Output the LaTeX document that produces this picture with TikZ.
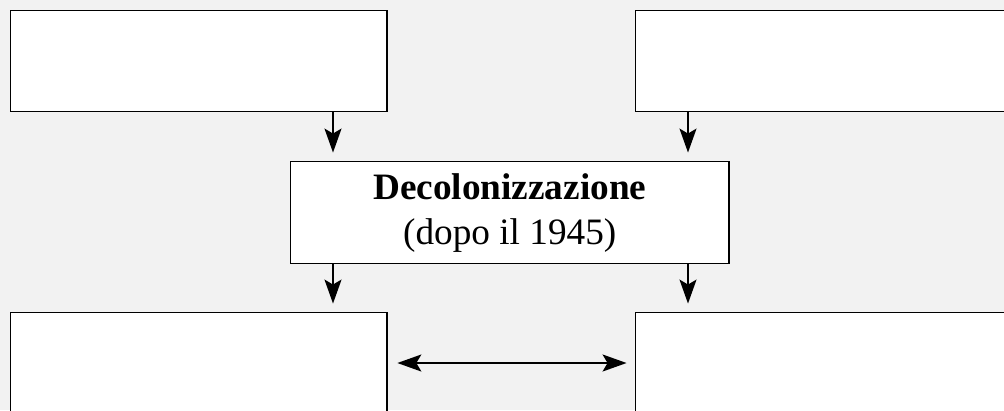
\documentclass[tikz,border=0pt]{standalone}
\usepackage{fontspec}
\setmainfont{Liberation Serif}
\usetikzlibrary{arrows.meta}
\definecolor{pagegray}{RGB}{242,242,242}
\tikzset{
  box/.style={draw, fill=white, line width=1pt, inner sep=0pt},
  arr/.style={-{Stealth[length=17pt, width=12pt, inset=3.5pt]}, line width=1.8pt},
  dblarr/.style={{Stealth[length=17pt, width=12pt, inset=3.5pt]}-{Stealth[length=17pt, width=12pt, inset=3.5pt]}, line width=1.8pt}
}

\begin{document}
\begin{tikzpicture}[x=0.025cm, y=-0.025cm]
  \useasboundingbox (0,0) rectangle (1004,410);
  \clip (0,0) rectangle (1004,410);
  \fill [pagegray] (0,0) rectangle (1004,410);

  % top row
  \node [box, anchor=north west, minimum width=9.4cm, minimum height=2.525cm] (tl) at (10,10) {};
  \node [box, anchor=north west, minimum width=10cm, minimum height=2.525cm] (tr) at (635,10) {};

  % middle
  \node [box, anchor=north west, minimum width=10.95cm, minimum height=2.55cm,
         align=center, font=\fontsize{26.5}{32}\selectfont] (dec) at (290,161)
        {\textbf{Decolonizzazione}\\(dopo il 1945)};

  % bottom row
  \node [box, anchor=north west, minimum width=9.4cm, minimum height=3cm] (bl) at (10,312) {};
  \node [box, anchor=north west, minimum width=10cm, minimum height=3cm] (br) at (635,312) {};

  \draw [arr, shorten >=6pt] (tl.south -| 333,0) -- (dec.north -| 333,0);
  \draw [arr, shorten >=6pt] (tr.south -| 688,0) -- (dec.north -| 688,0);
  \draw [arr, shorten >=6pt] (dec.south -| 333,0) -- (bl.north -| 333,0);
  \draw [arr, shorten >=6pt] (dec.south -| 688,0) -- (br.north -| 688,0);

  \draw [dblarr, shorten <=7pt, shorten >=6pt] (bl.east |- 0,363) -- (br.west |- 0,363);
\end{tikzpicture}
\end{document}
